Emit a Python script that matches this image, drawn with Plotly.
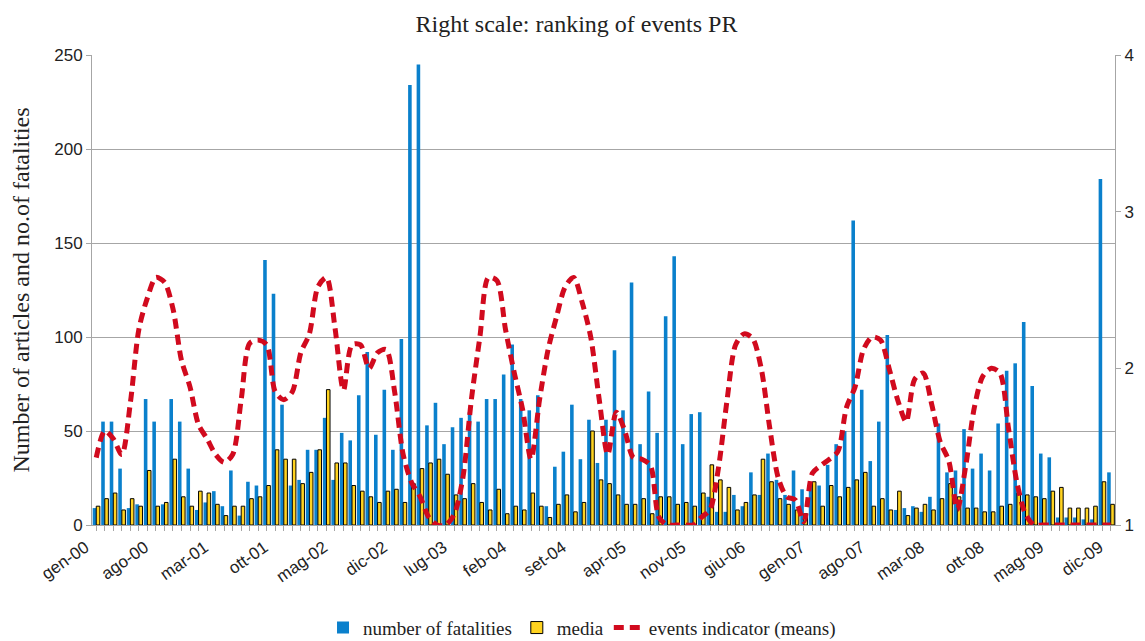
import plotly.graph_objects as go
from plotly.subplots import make_subplots

MONTHS = ["gen", "feb", "mar", "apr", "mag", "giu", "lug", "ago", "set", "ott", "nov", "dic"]
YEARS = ["00", "01", "02", "03", "04", "05", "06", "07", "08", "09"]
months = [f"{m}-{y}" for y in YEARS for m in MONTHS]

fatalities = [
    9, 55, 55, 30, 9, 11, 67, 55, 11, 67,
    55, 30, 8, 12, 18, 10, 29, 5, 23, 21,
    141, 123, 64, 21, 24, 40, 40, 57, 24, 49,
    45, 69, 92, 48, 72, 40, 99, 234, 245, 53,
    65, 43, 52, 57, 60, 55, 67, 67, 80, 96,
    67, 61, 69, 10, 31, 39, 64, 35, 56, 33,
    56, 93, 61, 129, 43, 71, 49, 111, 143, 43,
    59, 60, 15, 7, 7, 16, 10, 28, 16, 38,
    24, 16, 29, 19, 23, 21, 32, 43, 50, 162,
    72, 34, 55, 101, 8, 9, 10, 7, 15, 54,
    28, 29, 51, 30, 38, 29, 54, 82, 86, 108,
    74, 38, 36, 4, 4, 4, 3, 3, 184, 28,
]

media = [
    10, 14, 17, 8, 14, 10, 29, 10, 12, 35,
    15, 10, 18, 17, 11, 5, 10, 10, 14, 15,
    21, 40, 35, 35, 22, 28, 40, 72, 33, 33,
    21, 18, 15, 12, 18, 19, 12, 22, 30, 33,
    35, 27, 16, 14, 22, 12, 8, 19, 6, 10,
    8, 17, 10, 4, 11, 16, 7, 12, 50, 24,
    22, 16, 11, 11, 14, 6, 15, 15, 11, 12,
    10, 17, 32, 24, 20, 8, 12, 16, 35, 23,
    14, 11, 8, 6, 23, 10, 21, 15, 20, 24,
    28, 10, 14, 8, 18, 5, 9, 11, 8, 14,
    22, 15, 9, 9, 7, 7, 10, 11, 17, 16,
    15, 14, 18, 20, 9, 9, 9, 10, 23, 11,
]

events_indicator = [
    1.43, 1.6, 1.55, 1.45, 1.78, 2.25, 2.45, 2.58, 2.55, 2.38,
    2.05, 1.88, 1.64, 1.55, 1.45, 1.4, 1.45, 1.8, 2.16, 2.18,
    2.15, 1.85, 1.8, 1.85, 2.1, 2.22, 2.52, 2.58, 2.26, 1.86,
    2.15, 2.15, 2.0, 2.1, 2.12, 1.85, 1.45, 1.27, 1.18, 1.05,
    1.0, 1.0, 1.07, 1.3, 1.8, 2.2, 2.58, 2.56, 2.25, 1.98,
    1.74, 1.42, 1.8, 2.12, 2.33, 2.52, 2.58, 2.42, 2.2, 1.8,
    1.45, 1.72, 1.6, 1.43, 1.42, 1.38, 1.05, 1.0, 1.0, 1.0,
    1.0, 1.05, 1.1, 1.37, 1.8, 2.15, 2.22, 2.19, 2.0, 1.62,
    1.3, 1.18, 1.16, 1.02, 1.33, 1.38, 1.42, 1.47, 1.75, 1.88,
    2.12, 2.2, 2.18, 2.0, 1.8, 1.66, 1.93, 1.97, 1.77, 1.53,
    1.41, 1.1, 1.38, 1.75, 1.95, 2.0, 1.97, 1.62, 1.27, 1.07,
    1.0, 1.0, 1.0, 1.0, 1.0, 1.0, 1.0, 1.0, 1.0, 1.0,
]

# label only every 7th month, but keep a tick on every month
tick_text = [m if i % 7 == 0 else "" for i, m in enumerate(months)]

SERIF = "Liberation Serif"
SANS = "Liberation Sans"
GRID = "#a6a6a6"
TEXT = "#222222"

fig = make_subplots(specs=[[{"secondary_y": True}]])

fig.add_trace(
    go.Bar(
        name="number of fatalities",
        x=months,
        y=fatalities,
        marker={"color": "#0a80cc", "line": {"width": 0}},
    ),
    secondary_y=False,
)
fig.add_trace(
    go.Bar(
        name="media",
        x=months,
        y=media,
        marker={"color": "#ffd320", "line": {"color": "#000000", "width": 1}},
    ),
    secondary_y=False,
)
fig.add_trace(
    go.Scatter(
        name="events indicator (means)",
        x=months,
        y=events_indicator,
        mode="lines",
        line={"color": "#d10a1e", "width": 5, "dash": "10px,6px", "shape": "spline", "smoothing": 0.8},
    ),
    secondary_y=True,
)

# the page body adds an 8px offset, so the figure is sized to fit inside it
fig.update_layout(
    width=1137,
    height=633,
    margin={"l": 84, "r": 30, "t": 47, "b": 116},
    font={"family": SERIF, "size": 18, "color": TEXT},
    paper_bgcolor="white",
    plot_bgcolor="white",
    barmode="group",
    bargap=0.16,
    bargroupgap=0,
    title={
        "text": "Right scale: ranking of events PR",
        "x": 0.5,
        "xanchor": "center",
        "yref": "container",
        "y": 0.976,
        "yanchor": "middle",
        "font": {"family": SERIF, "size": 24, "color": TEXT},
    },
    legend={
        "orientation": "h",
        "xref": "paper",
        "x": 0.479,
        "xanchor": "center",
        "yref": "container",
        "y": 0.021,
        "yanchor": "middle",
        "font": {"family": SERIF, "size": 19, "color": TEXT},
    },
    showlegend=True,
)

fig.update_xaxes(
    type="category",
    domain=[0, 1],
    tickmode="array",
    tickvals=months,
    ticktext=tick_text,
    tickangle=-35,
    ticklabelshift=-11,
    ticks="outside",
    ticklen=5,
    tickcolor=GRID,
    showline=True,
    linecolor=GRID,
    showgrid=False,
    automargin=False,
    tickfont={"family": SANS, "size": 17, "color": TEXT},
)

fig.update_yaxes(
    range=[0, 250],
    dtick=50,
    ticks="outside",
    ticklen=5,
    tickcolor=GRID,
    showline=True,
    linecolor=GRID,
    showgrid=True,
    gridcolor=GRID,
    zeroline=False,
    automargin=False,
    tickfont={"family": SANS, "size": 17, "color": TEXT},
    title={
        "text": "Number of articles and no.of fatalities",
        "font": {"family": SERIF, "size": 24, "color": TEXT},
        "standoff": 22,
    },
    secondary_y=False,
)

fig.update_yaxes(
    range=[1, 4],
    dtick=1,
    ticks="outside",
    ticklen=5,
    tickcolor=GRID,
    showline=True,
    linecolor=GRID,
    showgrid=False,
    zeroline=False,
    automargin=False,
    tickfont={"family": SANS, "size": 17, "color": TEXT},
    secondary_y=True,
)

fig.write_html("out.html")
